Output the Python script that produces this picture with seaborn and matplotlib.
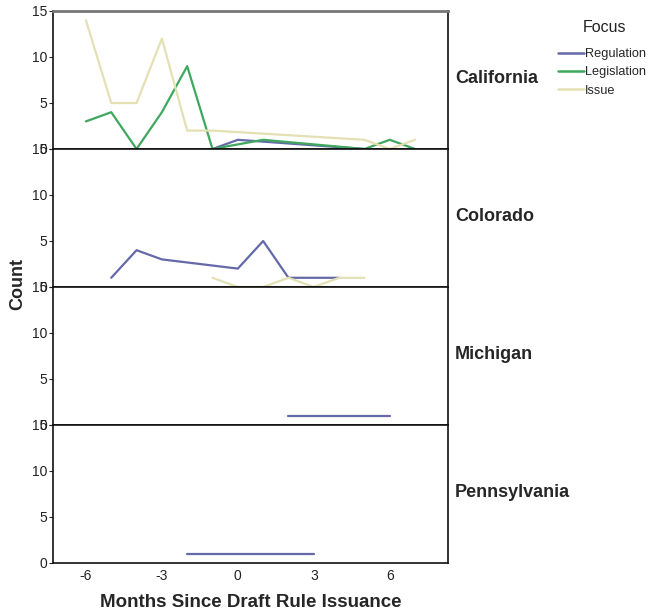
import matplotlib
matplotlib.use("Agg")
import matplotlib.pyplot as plt
from matplotlib.lines import Line2D
import seaborn as sns
import pandas as pd

# Monthly counts by state and focus, months relative to the draft rule issuance
states = ["California", "Colorado", "Michigan", "Pennsylvania"]
focus_levels = ["Regulation", "Legislation", "Issue"]

ca_regulation_months = [-1, 0, 5]
ca_regulation_counts = [0, 1, 0]
ca_legislation_months = [-6, -5, -4, -3, -2, -1, 1, 5, 6, 7]
ca_legislation_counts = [3, 4, 0, 4, 9, 0, 1, 0, 1, 0]
ca_issue_months = [-6, -5, -4, -3, -2, -1, 5, 6, 7]
ca_issue_counts = [14, 5, 5, 12, 2, 2, 1, 0, 1]

co_regulation_months = [-5, -4, -3, 0, 1, 2, 4]
co_regulation_counts = [1, 4, 3, 2, 5, 1, 1]
co_issue_months = [-1, 0, 1, 2, 3, 4, 5]
co_issue_counts = [1, 0, 0, 1, 0, 1, 1]

mi_regulation_months = [2, 3, 4, 5, 6]
mi_regulation_counts = [1, 1, 1, 1, 1]

pa_regulation_months = [-2, -1, 0, 1, 2, 3]
pa_regulation_counts = [1, 1, 1, 1, 1, 1]

x_ticks = [-6, -3, 0, 3, 6]
y_ticks = [0, 5, 10, 15]

series = [
    ("California", "Regulation", ca_regulation_months, ca_regulation_counts),
    ("California", "Legislation", ca_legislation_months, ca_legislation_counts),
    ("California", "Issue", ca_issue_months, ca_issue_counts),
    ("Colorado", "Regulation", co_regulation_months, co_regulation_counts),
    ("Colorado", "Issue", co_issue_months, co_issue_counts),
    ("Michigan", "Regulation", mi_regulation_months, mi_regulation_counts),
    ("Pennsylvania", "Regulation", pa_regulation_months, pa_regulation_counts),
]
rows = []
for state, focus, months, counts in series:
    for m, c in zip(months, counts):
        rows.append({"State": state, "Focus": focus, "Month": m, "Count": c})
df = pd.DataFrame(rows)

palette = {"Regulation": "#6469a8", "Legislation": "#3fa85e", "Issue": "#e3e0b4"}

sns.set_style("white")
plt.rcParams["font.family"] = ["Liberation Sans", "DejaVu Sans"]

fig = plt.figure(figsize=(6.51, 6.10), dpi=100)
left, right = 53 / 651, 448 / 651
top, bottom = 1 - 11 / 610, 1 - 563 / 610
h = (top - bottom) / 4

for i, state in enumerate(states):
    ax = fig.add_axes([left, top - (i + 1) * h, right - left, h])
    sub = df[df["State"] == state]
    sns.lineplot(data=sub, x="Month", y="Count", hue="Focus",
                 hue_order=focus_levels, palette=palette, linewidth=1.6,
                 estimator=None, sort=True, legend=False, ax=ax)
    ax.set_xlim(-7.3, 8.3)
    ax.set_ylim(0, 15)
    ax.set_yticks(y_ticks)
    ax.set_yticklabels([str(t) for t in y_ticks], fontsize=10, color="#222222")
    ax.set_xticks(x_ticks)
    if i == len(states) - 1:
        ax.set_xticklabels([str(t) for t in x_ticks], fontsize=10, color="#222222")
        ax.set_xlabel("Months Since Draft Rule Issuance", fontsize=13.5,
                      fontweight="bold", labelpad=8)
    else:
        ax.set_xticklabels([])
        ax.set_xlabel("")
    ax.set_ylabel("")
    ax.tick_params(axis="y", direction="out", length=3, width=0.8, pad=1,
                   left=True)
    ax.tick_params(axis="x", direction="out", length=0, pad=4)
    for sp in ax.spines.values():
        sp.set_color("#111111")
        sp.set_linewidth(1.2)
    if i == 0:
        ax.spines["top"].set_color("#777777")
        ax.spines["top"].set_linewidth(2)
    ax.text(1.018, 0.51, state, transform=ax.transAxes, fontsize=13,
            fontweight="bold", ha="left", va="center")

fig.text(0.028, (top + bottom) / 2 + 0.005, "Count", rotation=90,
         fontsize=13, fontweight="bold", ha="center", va="center")

# Legend: title placed separately to keep the wide gap above the entries
fig.text(604 / 651, 1 - 28 / 610, "Focus", fontsize=11.5, ha="center",
         va="center", color="#222222")
handles = [Line2D([0], [0], color=palette[f], lw=1.8) for f in focus_levels]
leg = fig.legend(handles, focus_levels, loc="upper left",
                 bbox_to_anchor=(558 / 651, 1 - 48 / 610), frameon=False,
                 fontsize=9.2, handlelength=2.0, handletextpad=0.1,
                 labelspacing=0.5, borderaxespad=0, borderpad=0)

fig.savefig("out.png", dpi=100)
